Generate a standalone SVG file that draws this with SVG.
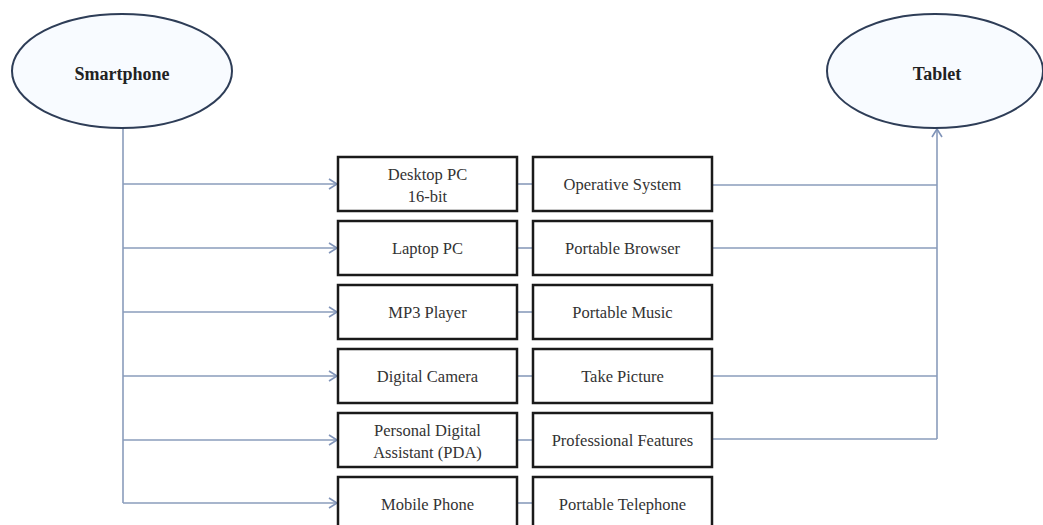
<svg xmlns="http://www.w3.org/2000/svg" width="1043" height="525" viewBox="0 0 1043 525">
<style>
.ell{fill:#f8fbff;stroke:#2e3d57;stroke-width:2}
.box{fill:#ffffff;stroke:#1a1a1a;stroke-width:2.5}
.t{font-family:"Liberation Serif","Times New Roman",serif;font-size:16.5px;fill:#333;text-anchor:middle}
.tb{font-family:"Liberation Serif","Times New Roman",serif;font-size:18px;font-weight:bold;fill:#222;text-anchor:middle}
.c{fill:none;stroke:#8a9cbb;stroke-width:1.6}
</style>
<defs>
<marker id="arr" markerWidth="12" markerHeight="12" refX="10" refY="6" orient="auto" markerUnits="userSpaceOnUse">
<path d="M2,1 L10,6 L2,11" fill="none" stroke="#7f93b8" stroke-width="1.6"/>
</marker>
</defs>
<g id="connectors">
<path class="c" d="M123,128 V503"/>
<path class="c" d="M123,184 H337" marker-end="url(#arr)"/>
<path class="c" d="M123,248 H337" marker-end="url(#arr)"/>
<path class="c" d="M123,312 H337" marker-end="url(#arr)"/>
<path class="c" d="M123,376 H337" marker-end="url(#arr)"/>
<path class="c" d="M123,440 H337" marker-end="url(#arr)"/>
<path class="c" d="M123,503 H337" marker-end="url(#arr)"/>
<path class="c" d="M517,184 H533"/>
<path class="c" d="M517,248 H533"/>
<path class="c" d="M517,312 H533"/>
<path class="c" d="M517,376 H533"/>
<path class="c" d="M517,440 H533"/>
<path class="c" d="M517,503 H533"/>
<path class="c" d="M712,185 H937"/>
<path class="c" d="M712,248 H937"/>
<path class="c" d="M712,376 H937"/>
<path class="c" d="M712,439 H937"/>
<path class="c" d="M937,439 V129" marker-end="url(#arr)"/>
</g>
<g id="smartphone"><ellipse class="ell" cx="122" cy="71" rx="110" ry="57"/><text class="tb" x="122" y="80">Smartphone</text></g>
<g id="tablet"><ellipse class="ell" cx="935" cy="71" rx="108" ry="57"/><text class="tb" x="937" y="80">Tablet</text></g>
<g id="desktop"><rect class="box" x="338" y="157" width="179" height="54"/><text class="t" x="427.5" y="180">Desktop PC</text><text class="t" x="427.5" y="202">16-bit</text></g>
<g id="os"><rect class="box" x="533" y="157" width="179" height="54"/><text class="t" x="622.5" y="190">Operative System</text></g>
<g id="laptop"><rect class="box" x="338" y="221" width="179" height="54"/><text class="t" x="427.5" y="254">Laptop PC</text></g>
<g id="browser"><rect class="box" x="533" y="221" width="179" height="54"/><text class="t" x="622.5" y="254">Portable Browser</text></g>
<g id="mp3"><rect class="box" x="338" y="285" width="179" height="54"/><text class="t" x="427.5" y="318">MP3 Player</text></g>
<g id="music"><rect class="box" x="533" y="285" width="179" height="54"/><text class="t" x="622.5" y="318">Portable Music</text></g>
<g id="camera"><rect class="box" x="338" y="349" width="179" height="54"/><text class="t" x="427.5" y="382">Digital Camera</text></g>
<g id="picture"><rect class="box" x="533" y="349" width="179" height="54"/><text class="t" x="622.5" y="382">Take Picture</text></g>
<g id="pda"><rect class="box" x="338" y="413" width="179" height="54"/><text class="t" x="427.5" y="436">Personal Digital</text><text class="t" x="427.5" y="458">Assistant (PDA)</text></g>
<g id="features"><rect class="box" x="533" y="413" width="179" height="54"/><text class="t" x="622.5" y="446">Professional Features</text></g>
<g id="mobile"><rect class="box" x="338" y="477" width="179" height="54"/><text class="t" x="427.5" y="510">Mobile Phone</text></g>
<g id="telephone"><rect class="box" x="533" y="477" width="179" height="54"/><text class="t" x="622.5" y="510">Portable Telephone</text></g>
</svg>
